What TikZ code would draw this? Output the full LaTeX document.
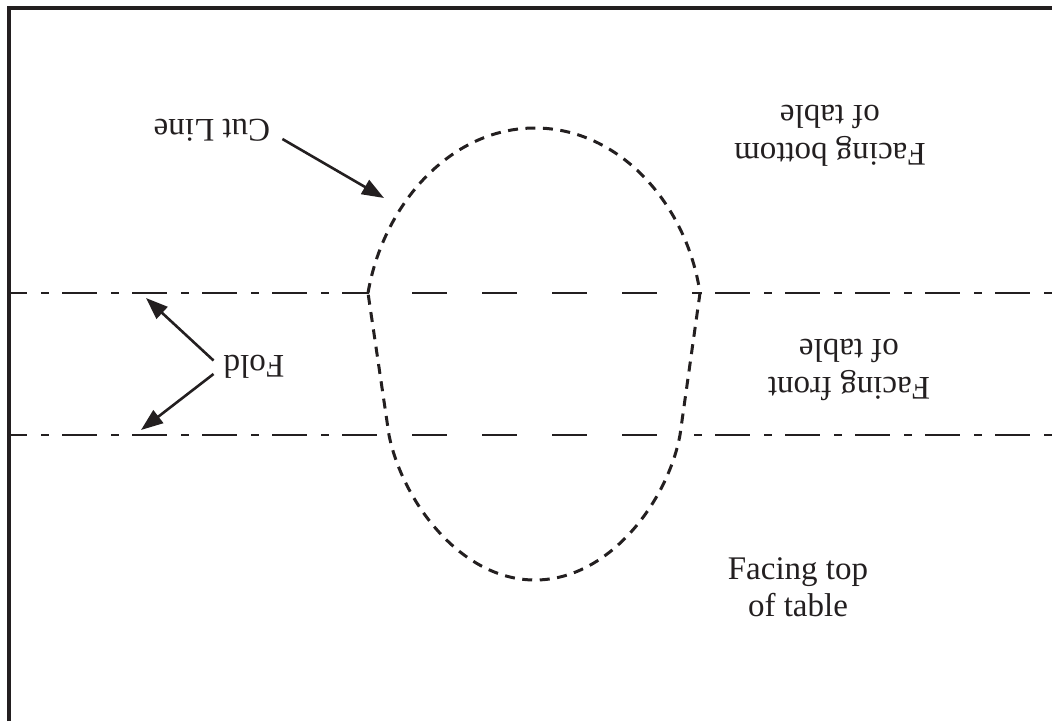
\documentclass[tikz,border=0pt]{standalone}
\usepackage{fontspec}
\setmainfont{Liberation Serif}
\usetikzlibrary{arrows.meta}
\definecolor{ink}{RGB}{35,31,32}
\tikzset{
  labeltext/.style={inner sep=0pt, align=center, text=ink,
    font=\fontsize{33}{37.5}\selectfont},
  flipped/.style={labeltext, rotate=180},
  pointer/.style={draw=ink, line width=2.6pt,
    -{Triangle[length=22pt,width=16pt]}},
  edge/.style={draw=ink, line width=3.2pt},
  foldline/.style={draw=ink, line width=2.8pt,
    dash pattern=on 35pt off 14pt on 8pt off 13pt, dash phase=17pt},
  foldgap/.style={draw=ink, line width=2.8pt,
    dash pattern=on 35pt off 35pt},
  cutline/.style={draw=ink, line width=3pt,
    dash pattern=on 10pt off 7.5pt}
}
\begin{document}
\begin{tikzpicture}[x=1pt,y=-1pt]
\useasboundingbox (0,0) rectangle (1052,721);

% sheet edges
\draw[edge] (9,721) -- (9,8) -- (1052,8);

% fold lines: dash-dot outside the cut, plain dashes inside
\draw[foldline] (9,293) -- (369,293);
\draw[foldgap]  (412,293) -- (700,293);
\draw[foldline, dash phase=-23pt] (692,293) -- (1052,293);
\draw[foldline] (9,435) -- (389,435);
\draw[foldgap]  (412,435) -- (680,435);
\draw[foldline, dash phase=-23pt] (692,435) -- (1052,435);

% cut outline
\draw[cutline] (368,293) .. controls (383,205) and (450,128) .. (535,128)
  .. controls (620,128) and (687,205) .. (700,293)
  -- (680,435) .. controls (668,500) and (610,580) .. (535,580)
  .. controls (460,580) and (402,500) .. (389,435) -- cycle;

% labels
\node[flipped] (cut) at (212,130) {Cut Line};
\node[flipped] (fold) at (254,366.5) {Fold};
\node[flipped] (bottom) at (830,136) {Facing bottom\\of table};
\node[flipped] (front) at (849,370) {Facing front\\of table};
\node[labeltext] (top) at (798,587) {Facing top\\of table};

% pointers
\coordinate (cuttip) at (384,198);
\coordinate (foldtipA) at (146,298);
\coordinate (foldtipB) at (141,430);
\draw[pointer] ([xshift=12pt,yshift=-9pt]cut.west) -- (cuttip);
\draw[pointer] ([xshift=-10pt,yshift=6pt]fold.east) -- (foldtipA);
\draw[pointer] ([xshift=-10pt,yshift=-7.5pt]fold.east) -- (foldtipB);
\end{tikzpicture}
\end{document}
